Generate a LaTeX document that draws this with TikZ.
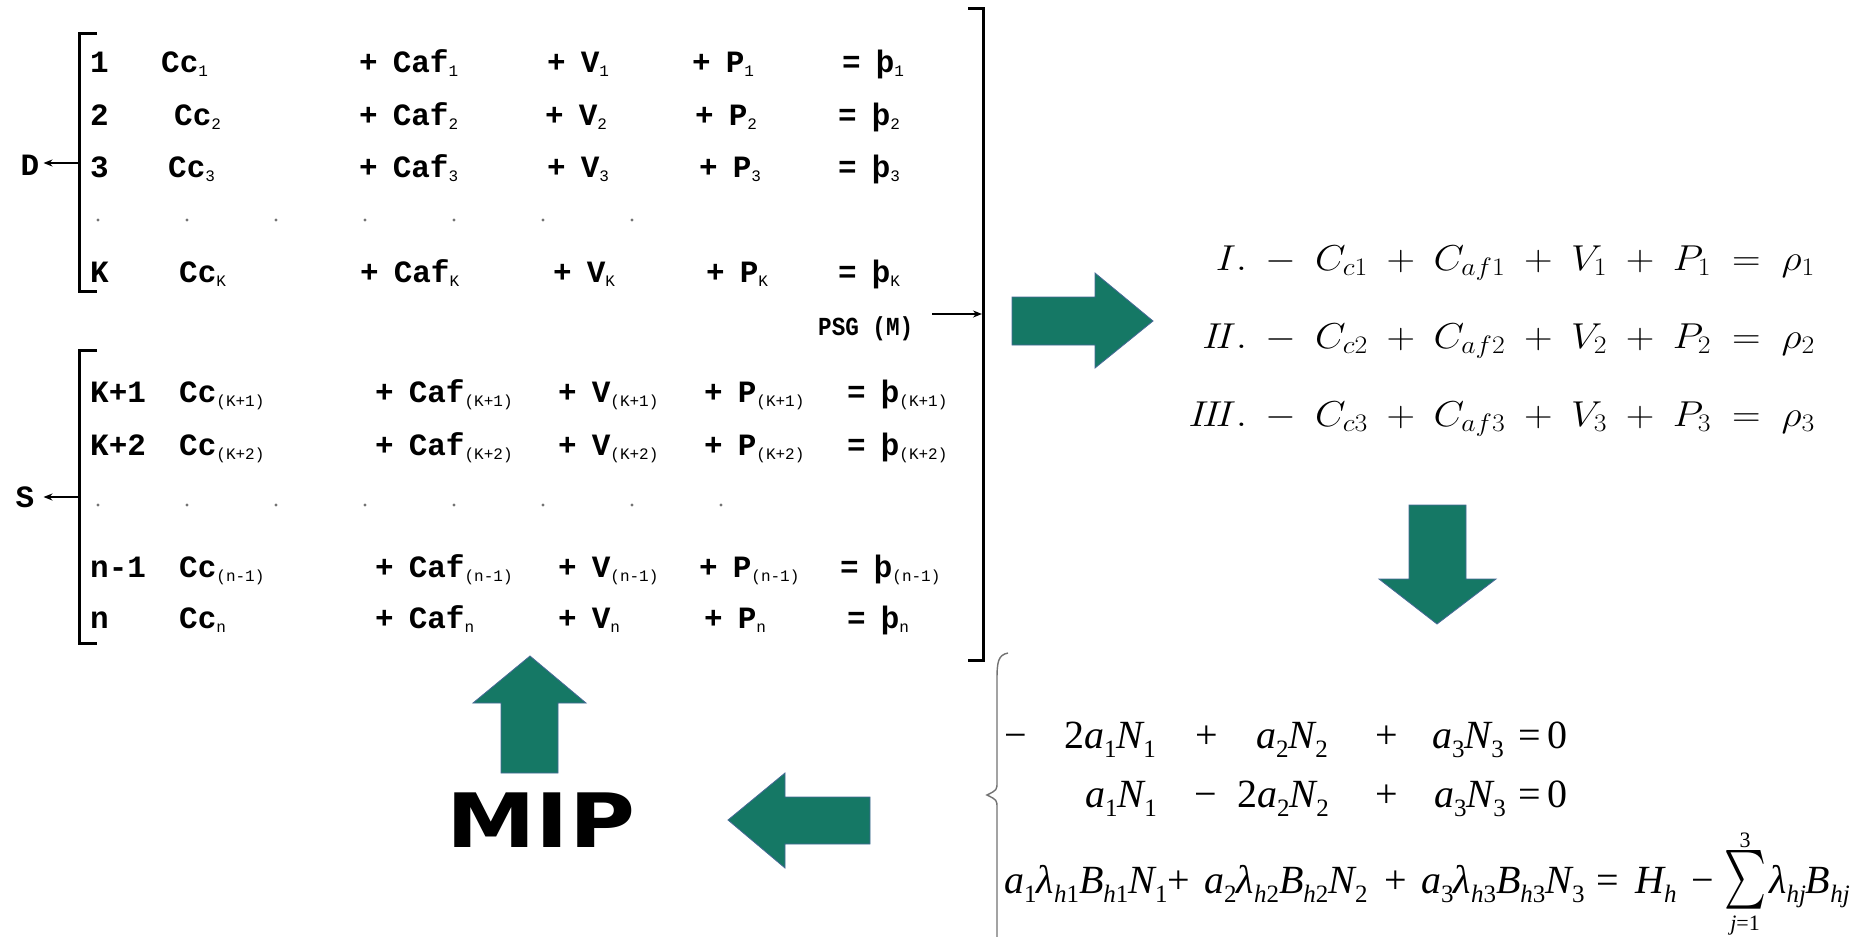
\documentclass[tikz,border=0pt]{standalone}
\usepackage{fix-cm}
\usepackage{fontspec}
\usetikzlibrary{arrows.meta}
\newfontfamily\mono{Liberation Mono}
\newfontfamily\tms{Liberation Serif}
\newfontfamily\djv{DejaVu Sans}
\definecolor{arrgreen}{RGB}{21,120,101}
\definecolor{arredge}{RGB}{70,105,150}
\newcommand\msb[1]{\raisebox{-4pt}{\fontsize{16}{16}\selectfont\mdseries #1}}
\newcommand\pl[2]{#1\hspace{15pt}#2}
\newcommand\ti[1]{{\itshape #1}}
\newcommand\ts[1]{\raisebox{-9pt}{\fontsize{25}{25}\selectfont #1}}
\newcommand\tsh[1]{\raisebox{-9pt}{\fontsize{25}{25}\selectfont\itshape h\upshape #1}}
\newcommand\eqsp{\medmuskip=8.5mu\thickmuskip=9.5mu}
\tikzset{
  mtxt/.style={inner sep=0pt, anchor=base west, font=\mono\bfseries\fontsize{31}{31}\selectfont},
  ttxt/.style={inner sep=0pt, anchor=base west, font=\tms\fontsize{40}{48}\selectfont},
  req/.style={inner sep=0pt, anchor=base east, font=\fontsize{36}{42}\selectfont},
  bigarrow/.style={fill=arrgreen, draw=arredge, line width=0.8pt, line join=miter},
  brk/.style={line width=3pt, line cap=butt, line join=miter},
  sarrow/.style={line width=1.6pt, -{Stealth[length=9pt,width=7pt]}},
  dotm/.style={fill=black!55}
}
\begin{document}
\begin{tikzpicture}[x=1pt,y=-1pt]
\useasboundingbox[fill=white] (0,0) rectangle (1864,937);

% ---------- brackets of the left matrix ----------
\draw[brk] (97,33) -- (79,33) -- (79,291) -- (97,291);
\draw[brk] (97,350) -- (79,350) -- (79,643) -- (97,643);
\draw[brk] (968,8) -- (983,8) -- (983,660) -- (968,660);

\node[mtxt, anchor=center] (D) at (30,165) {D};
\node[mtxt, anchor=center] (S) at (25,497) {S};
\coordinate (dbr) at (79,163);
\coordinate (sbr) at (79,497);
\draw[sarrow, shorten >=4pt] (dbr) -- (D.east |- dbr);
\draw[sarrow, shorten >=9pt] (sbr) -- (S.east |- sbr);

\node[inner sep=0pt, anchor=base west, font=\mono\bfseries\fontsize{26}{26}\selectfont] (psg) at (818,335) {\scalebox{0.87}[1]{PSG (M)}};
\coordinate (psgs) at (932,314);
\coordinate (rbrm) at (982,314);
\draw[sarrow] (psgs) -- (rbrm);

% ---------- rows ----------
\foreach \nm/\y/\nn/\xc/\sbs/\xa/\xv/\xp/\xe in {
  r1/72/1/161/1/359/547/692/842,
  r2/125/2/174/2/359/545/695/838,
  r3/177/3/168/3/359/547/699/838,
  rK/282/K/179/K/360/553/706/838,
  rKa/402/K+1/179/(K+1)/375/558/704/847,
  rKb/455/K+2/179/(K+2)/375/558/704/847,
  rna/577/n-1/179/(n-1)/375/558/699/840,
  rn/628/n/179/n/375/558/704/847}{
  \node[mtxt] (num-\nm) at (90,\y) {\nn};
  \node[mtxt] (cc-\nm) at (\xc,\y) {Cc\msb{\sbs}};
  \node[mtxt] (caf-\nm) at (\xa,\y) {\pl{+}{Caf}\msb{\sbs}};
  \node[mtxt] (v-\nm) at (\xv,\y) {\pl{+}{V}\msb{\sbs}};
  \node[mtxt] (p-\nm) at (\xp,\y) {\pl{+}{P}\msb{\sbs}};
  \node[mtxt] (rho-\nm) at (\xe,\y) {\pl{=}{þ}\msb{\sbs}};
}
\foreach \i in {0,...,6} \fill[dotm] (98+89*\i,220) circle (1.6pt);
\foreach \i in {0,...,7} \fill[dotm] (98+89*\i,505) circle (1.6pt);

% ---------- big arrows ----------
\draw[bigarrow] (1012,297) -- (1095,297) -- (1095,273) -- (1153,321) -- (1095,368) -- (1095,345) -- (1012,345) -- cycle;
\draw[bigarrow] (1409,505) -- (1466,505) -- (1466,579) -- (1496,579) -- (1437,624) -- (1379,579) -- (1409,579) -- cycle;
\draw[bigarrow] (501,773) -- (501,703) -- (473,703) -- (530,656) -- (586,703) -- (558,703) -- (558,773) -- cycle;
\draw[bigarrow] (870,797) -- (785,797) -- (785,773) -- (728,820) -- (785,868) -- (785,844) -- (870,844) -- cycle;

% ---------- right equations ----------
\node[req] (e1) at (1815,270) {\scalebox{1.1}[1]{\eqsp $I.-C_{c1}+C_{af1}+V_1+P_1=\rho_1$}};
\node[req] (e2) at (1815,348) {\scalebox{1.1}[1]{\eqsp $I\!I.-C_{c2}+C_{af2}+V_2+P_2=\rho_2$}};
\node[req] (e3) at (1815,426) {\scalebox{1.1}[1]{\eqsp $I\!I\!I.-C_{c3}+C_{af3}+V_3+P_3=\rho_3$}};

% ---------- MIP ----------
\node[inner sep=0pt, anchor=base west, font=\djv\bfseries\fontsize{75}{75}\selectfont] (mip) at (446,847) {\scalebox{1.2}[1]{MIP}};

% ---------- lower system ----------
\draw[black!55, line width=1.4pt] (1008,653) .. controls (998,655) and (997,662) .. (997,680) -- (997,782) .. controls (997,790) .. (987,795) .. controls (997,800) .. (997,808) -- (997,940);

\node[ttxt] (l1a) at (1004,748) {−};
\node[ttxt] (l1b) at (1064,748) {2\ti{a}\ts{1}\ti{N}\ts{1}};
\node[ttxt] (l1c) at (1195,748) {+};
\node[ttxt] (l1d) at (1256,748) {\ti{a}\ts{2}\ti{N}\ts{2}};
\node[ttxt] (l1e) at (1375,748) {+};
\node[ttxt] (l1f) at (1432,748) {\ti{a}\ts{3}\ti{N}\ts{3}};
\node[ttxt] (l1g) at (1518,748) {=};
\node[ttxt] (l1h) at (1547,748) {0};

\node[ttxt] (l2a) at (1085,807) {\ti{a}\ts{1}\ti{N}\ts{1}};
\node[ttxt] (l2b) at (1194,807) {−};
\node[ttxt] (l2c) at (1237,807) {2\ti{a}\ts{2}\ti{N}\ts{2}};
\node[ttxt] (l2d) at (1375,807) {+};
\node[ttxt] (l2e) at (1434,807) {\ti{a}\ts{3}\ti{N}\ts{3}};
\node[ttxt] (l2f) at (1518,807) {=};
\node[ttxt] (l2g) at (1547,807) {0};

\node[ttxt] (l3a) at (1004,893) {\ti{a}\ts{1}\ti{λ}\tsh{1}\ti{B}\tsh{1}\ti{N}\ts{1}};
\node[ttxt] (l3b) at (1167,893) {+};
\node[ttxt] (l3c) at (1204,893) {\ti{a}\ts{2}\ti{λ}\tsh{2}\ti{B}\tsh{2}\ti{N}\ts{2}};
\node[ttxt] (l3d) at (1384,893) {+};
\node[ttxt] (l3e) at (1421,893) {\ti{a}\ts{3}\ti{λ}\tsh{3}\ti{B}\tsh{3}\ti{N}\ts{3}};
\node[ttxt] (l3f) at (1596,893) {=};
\node[ttxt] (l3g) at (1635,893) {\ti{H}\raisebox{-9pt}{\fontsize{25}{25}\selectfont\itshape h}};
\node[ttxt] (l3h) at (1691,893) {−};
\node[inner sep=0pt] (sum) at (1745,880) {\resizebox{42pt}{44pt}{$\sum$}};
\node[inner sep=0pt, font=\tms\fontsize{22}{22}\selectfont] (sumt) at (1745,840) {3};
\node[inner sep=0pt, font=\tms\fontsize{22}{22}\selectfont] (sumb) at (1745,926) {\ti{j}=1};
\node[ttxt] (l3i) at (1769,893) {\ti{λ}\raisebox{-9pt}{\fontsize{25}{25}\selectfont\itshape hj}\ti{B}\raisebox{-9pt}{\fontsize{25}{25}\selectfont\itshape hj}};
\end{tikzpicture}
\end{document}
